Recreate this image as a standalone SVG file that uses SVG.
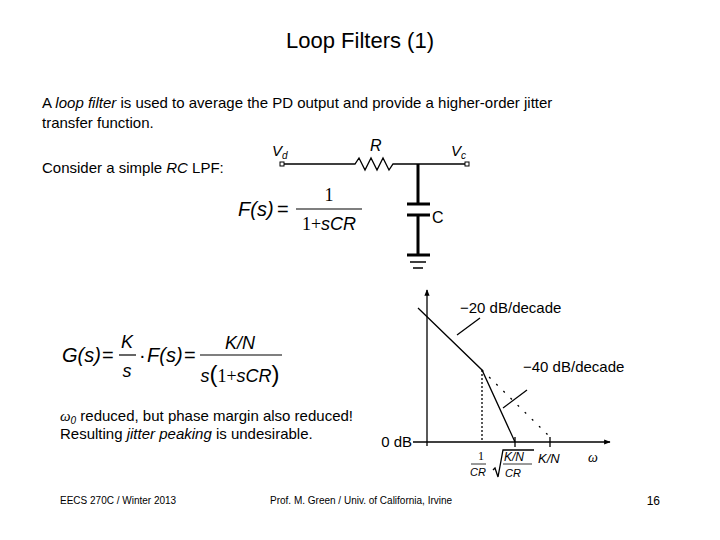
<svg xmlns="http://www.w3.org/2000/svg" width="720" height="540" viewBox="0 0 720 540">
<style>
text{font-family:"Liberation Sans",Arial,sans-serif;fill:#000}
.w{stroke:#000;fill:none;stroke-width:1.3}
.t{stroke:#000;fill:none;stroke-width:3}
.m{font-family:"Liberation Sans",Arial,sans-serif;font-style:italic}
.s{font-family:"Liberation Serif",serif}
</style>
<defs><marker id="ar" viewBox="0 0 10 10" refX="9" refY="5" markerWidth="5" markerHeight="5" orient="auto"><path d="M0,1L10,5L0,9z" fill="#000"/></marker></defs>
<rect width="720" height="540" fill="#fff"/>
<text x="360" y="48" font-size="22" text-anchor="middle">Loop Filters (1)</text>
<text x="42" y="108" font-size="15">A <tspan font-style="italic">loop filter</tspan> is used to average the PD output and provide a higher-order jitter</text>
<text x="42" y="128" font-size="15">transfer function.</text>
<text x="42" y="173" font-size="15">Consider a simple <tspan font-style="italic">RC</tspan> LPF:</text>
<g id="circuit">
<path class="w" d="M282,164H355l4,-6 6,12 6,-12 6,12 6,-12 6,12 4,-6H467"/>
<rect x="280" y="162" width="4" height="4" fill="#fff" stroke="#000"/>
<rect x="465" y="162" width="4" height="4" fill="#fff" stroke="#000"/>
<path class="t" d="M418,164V204M407,204H430M407,215H430M418,215V255M407,255H430"/>
<path class="w" d="M410,262H426M413,268H423"/>
<text x="272" y="156" font-size="15" font-style="italic">V<tspan font-size="10" dy="3">d</tspan></text>
<text x="370" y="151" font-size="16" font-style="italic">R</text>
<text x="451" y="156" font-size="15" font-style="italic">V<tspan font-size="10" dy="3">c</tspan></text>
<text x="432" y="223" font-size="16">C</text>
</g>
<g id="eq1">
<text x="238" y="216" font-size="20" class="m">F(s)</text>
<text x="277" y="216" font-size="20">=</text>
<text x="329" y="201" font-size="18" class="s" text-anchor="middle">1</text>
<line x1="296" y1="209" x2="362" y2="209" stroke="#000" stroke-width="1.2"/>
<text x="329" y="230" font-size="18" text-anchor="middle"><tspan class="s">1+</tspan><tspan font-style="italic">sCR</tspan></text>
</g>
<g id="eq2">
<text x="62" y="362" font-size="20" class="m">G(s)</text>
<text x="102" y="362" font-size="20">=</text>
<text x="127" y="348" font-size="18" class="m" text-anchor="middle">K</text>
<line x1="119" y1="355" x2="136" y2="355" stroke="#000" stroke-width="1.2"/>
<text x="127" y="377" font-size="18" class="m" text-anchor="middle">s</text>
<text x="139" y="362" font-size="20">·</text>
<text x="147" y="362" font-size="20" class="m">F(s)</text>
<text x="184" y="362" font-size="20">=</text>
<text x="240" y="349" font-size="18" class="m" text-anchor="middle">K/N</text>
<line x1="200" y1="355" x2="282" y2="355" stroke="#000" stroke-width="1.2"/>
<text x="240" y="382" font-size="18" text-anchor="middle"><tspan font-style="italic">s</tspan><tspan font-size="24">(</tspan><tspan class="s">1+</tspan><tspan font-style="italic">sCR</tspan><tspan font-size="24">)</tspan></text>
</g>
<text x="60" y="421" font-size="15"><tspan font-style="italic" class="s">ω</tspan><tspan font-size="10" dy="3" font-style="italic">0</tspan><tspan dy="-3"> reduced, but phase margin also reduced!</tspan></text>
<text x="60" y="439" font-size="15">Resulting <tspan font-style="italic">jitter peaking</tspan> is undesirable.</text>
<g id="plot">
<line class="w" x1="427" y1="446" x2="427" y2="290" marker-end="url(#ar)" stroke-width="2.5"/>
<line class="w" x1="413" y1="442" x2="610" y2="442" marker-end="url(#ar)" stroke-width="2.5"/>
<path class="w" stroke-width="2" d="M418,308L482,370L515,442"/>
<line class="w" x1="482" y1="370" x2="482" y2="442" stroke-dasharray="2,2" stroke-width="1"/>
<line class="w" x1="482" y1="370" x2="550" y2="437" stroke-dasharray="2,8" stroke-width="2"/>
<line class="w" x1="550" y1="437" x2="550" y2="447"/>
<line class="w" x1="515" y1="437" x2="515" y2="447"/>
<line class="w" x1="457" y1="335" x2="480" y2="318" stroke-width="1"/>
<line class="w" x1="503" y1="408" x2="527" y2="390" stroke-width="1"/>
<text x="460" y="313" font-size="15">−20 dB/decade</text>
<text x="523" y="372" font-size="15">−40 dB/decade</text>
<text x="412" y="447" font-size="15" text-anchor="end">0 dB</text>
<text x="478" y="460" font-size="12" class="s">1</text>
<line x1="471" y1="464" x2="486" y2="464" stroke="#000" stroke-width="0.8"/>
<text x="470" y="476" font-size="11" font-style="italic">CR</text>
<path class="w" stroke-width="1" d="M493,470l2,-2 3,9 5,-27H534"/>
<text x="504" y="461" font-size="12" font-style="italic">K/N</text>
<line x1="503" y1="464" x2="532" y2="464" stroke="#000" stroke-width="0.8"/>
<text x="505" y="477" font-size="11" font-style="italic">CR</text>
<text x="538" y="463" font-size="13" font-style="italic">K/N</text>
<text x="588" y="462" font-size="14" class="s" font-style="italic">ω</text>
</g>
<text x="60" y="504" font-size="10">EECS 270C / Winter 2013</text>
<text x="270" y="504" font-size="10">Prof. M. Green / Univ. of California, Irvine</text>
<text x="660" y="505" font-size="12" text-anchor="end">16</text>
</svg>
